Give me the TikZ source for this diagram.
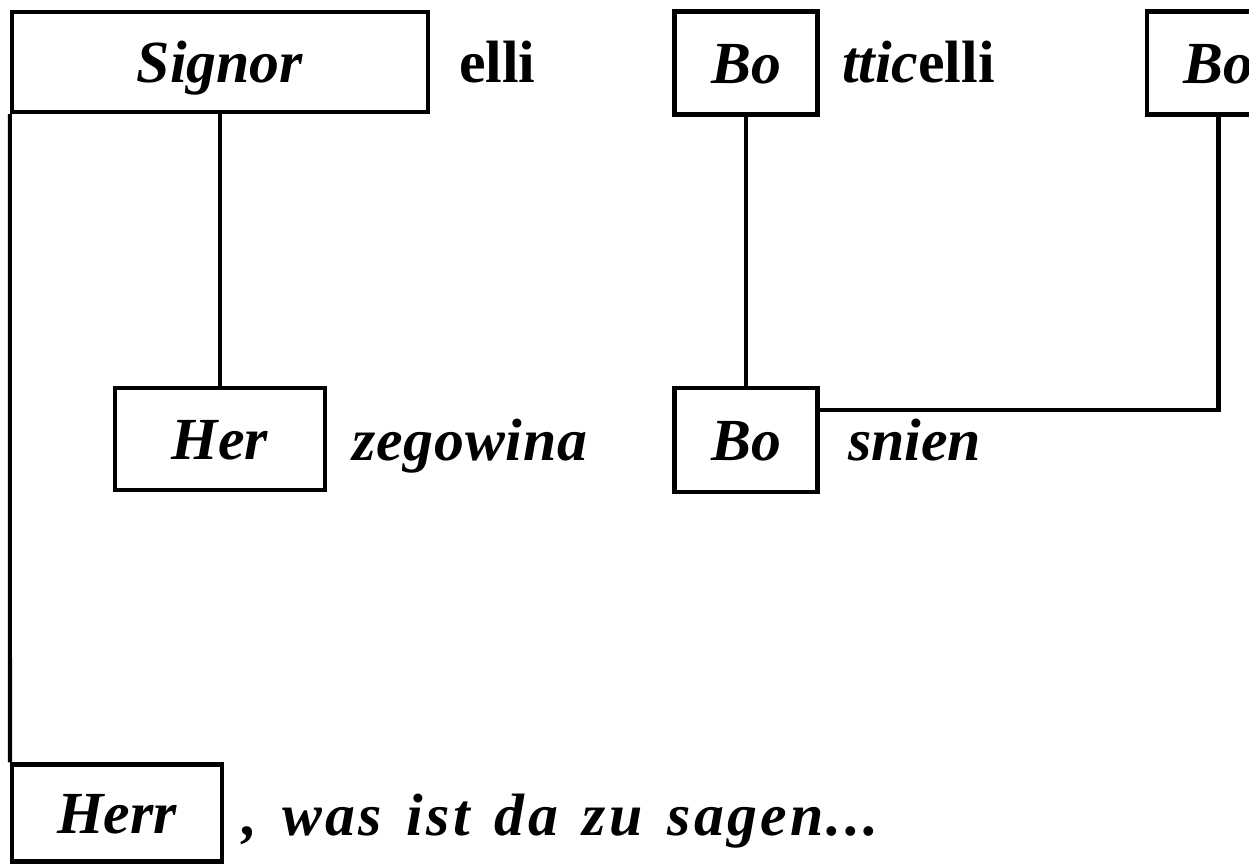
\documentclass[tikz,border=0pt]{standalone}
\usepackage{fontspec}
\setmainfont{Liberation Serif}
\begin{document}
\begin{tikzpicture}[line width=2.4pt,
    word/.style={draw, inner sep=0pt, text height=30pt, text depth=7pt,
        font=\fontsize{34}{40}\selectfont\bfseries\itshape},
    tail/.style={anchor=west, inner sep=0pt, text height=30pt, text depth=7pt,
        font=\fontsize{34}{40}\selectfont\bfseries\itshape}]
    \useasboundingbox (0,0) rectangle (24.98,-17.36);

    % Upper row
    \node[word, minimum width=8.32cm, minimum height=2cm] (signor) at (4.4,-1.24) {Signor};
    \node[tail] (elli) at (9.14,-1.24) {\upshape elli};
    \node[word, minimum width=2.86cm, minimum height=2.06cm] (botti) at (14.92,-1.26) {Bo};
    \node[tail] (tticelli) at (16.8,-1.24) {ttic\upshape elli};
    \node[word, minimum width=2.86cm, minimum height=2.06cm] (bofar) at (24.37,-1.26) {Bo\hspace{0.25cm}};

    % Middle row
    \node[word, minimum width=4.2cm, minimum height=2.04cm] (her) at (4.4,-8.78) {Her};
    \node[tail] (zegowina) at (7.0,-8.8) {\addfontfeature{LetterSpace=1.5}zegowina};
    \node[word, minimum width=2.86cm, minimum height=2.08cm] (bosnien) at (14.92,-8.8) {Bo};
    \node[tail] (snien) at (16.92,-8.8) {snien};

    % Bottom row
    \node[word, minimum width=4.2cm, minimum height=1.94cm] (herr) at (2.34,-16.26) {Herr};
    \node[tail] (sagen) at (4.8,-16.3) {\addfontfeature{LetterSpace=5.5}\spaceskip=0.42em , was ist da zu sagen...};

    % Connectors
    \draw (signor) -- (her);
    \draw (signor.south west) -- (herr.north west);
    \draw (botti) -- (bosnien);
    \draw (bofar) |- ([yshift=0.6cm]bosnien.east);
\end{tikzpicture}
\end{document}
